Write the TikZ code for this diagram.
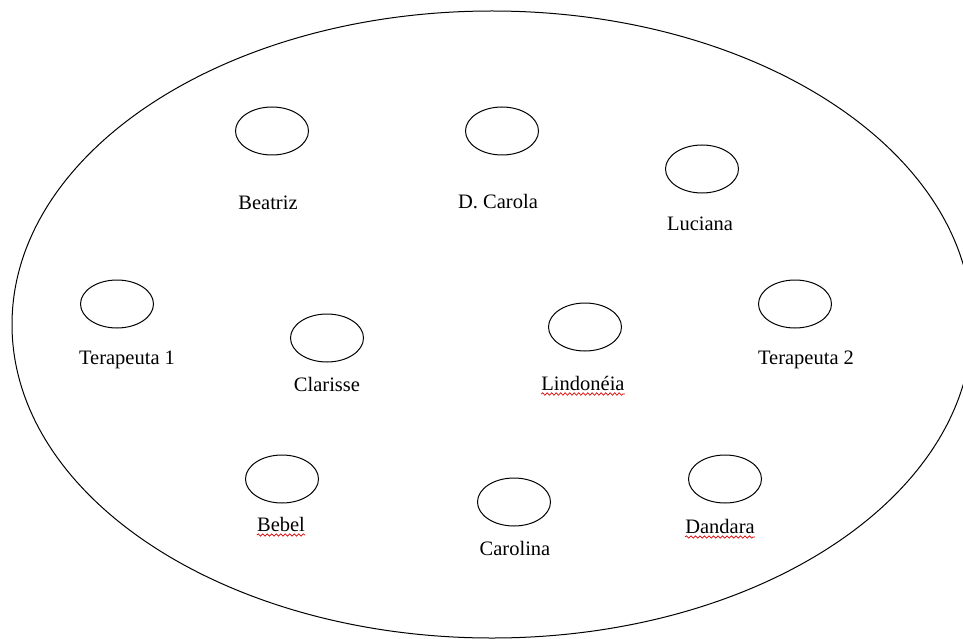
\documentclass[tikz,border=0pt]{standalone}
\usepackage{fontspec}
\setmainfont{Liberation Serif}
\usepackage{tikz}
\usetikzlibrary{shapes.geometric,decorations.pathmorphing}

\tikzset{
  seat/.style={draw, ellipse, line width=1pt, minimum width=73pt, minimum height=48pt, inner sep=0pt},
  nametag/.style={anchor=base, inner sep=0pt, font=\fontsize{20.5}{23}\selectfont},
  spell/.style={red!85!black, line width=0.7pt, decorate, decoration={snake, amplitude=1.2pt, segment length=4.5pt}}
}

\begin{document}
\begin{tikzpicture}[x=1pt, y=-1pt]
    \useasboundingbox (0,0) rectangle (963,639);

    % Table
    \coordinate (O) at (492,324.5);
    \draw[line width=1pt] (O) ellipse [x radius=480pt, y radius=313.5pt];

    % Seats, back row
    \node[seat] (beatriz) at (272,131) {};
    \node[seat] (dcarola) at (502,131) {};
    \node[seat] (luciana) at (702,169) {};
    % Seats, middle row
    \node[seat] (terap1) at (117,304) {};
    \node[seat] (clarisse) at (327,338) {};
    \node[seat] (lindoneia) at (585,327) {};
    \node[seat] (terap2) at (795,304) {};
    % Seats, front row
    \node[seat] (bebel) at (282,479) {};
    \node[seat] (carolina) at (514,502) {};
    \node[seat] (dandara) at (725,479) {};

    % Names
    \node[nametag] (beatriz-n) at (268,209) {Beatriz};
    \node[nametag] (dcarola-n) at (498,208) {D. Carola};
    \node[nametag] (luciana-n) at (700,230) {Luciana};
    \node[nametag] (terap1-n) at (127,364) {Terapeuta 1};
    \node[nametag] (clarisse-n) at (327,391) {Clarisse};
    \node[nametag] (lindoneia-n) at (583,390) {Lindonéia};
    \node[nametag] (terap2-n) at (806,364) {Terapeuta 2};
    \node[nametag] (bebel-n) at (281,531) {Bebel};
    \node[nametag] (carolina-n) at (515,555) {Carolina};
    \node[nametag] (dandara-n) at (720,533) {Dandara};

    % Spell-check marks
    \draw[spell] ([yshift=-4pt]lindoneia-n.base west) -- ([yshift=-4pt]lindoneia-n.base east);
    \draw[spell] ([yshift=-4pt]bebel-n.base west) -- ([yshift=-4pt]bebel-n.base east);
    \draw[spell] ([yshift=-4pt]dandara-n.base west) -- ([yshift=-4pt]dandara-n.base east);
\end{tikzpicture}
\end{document}
